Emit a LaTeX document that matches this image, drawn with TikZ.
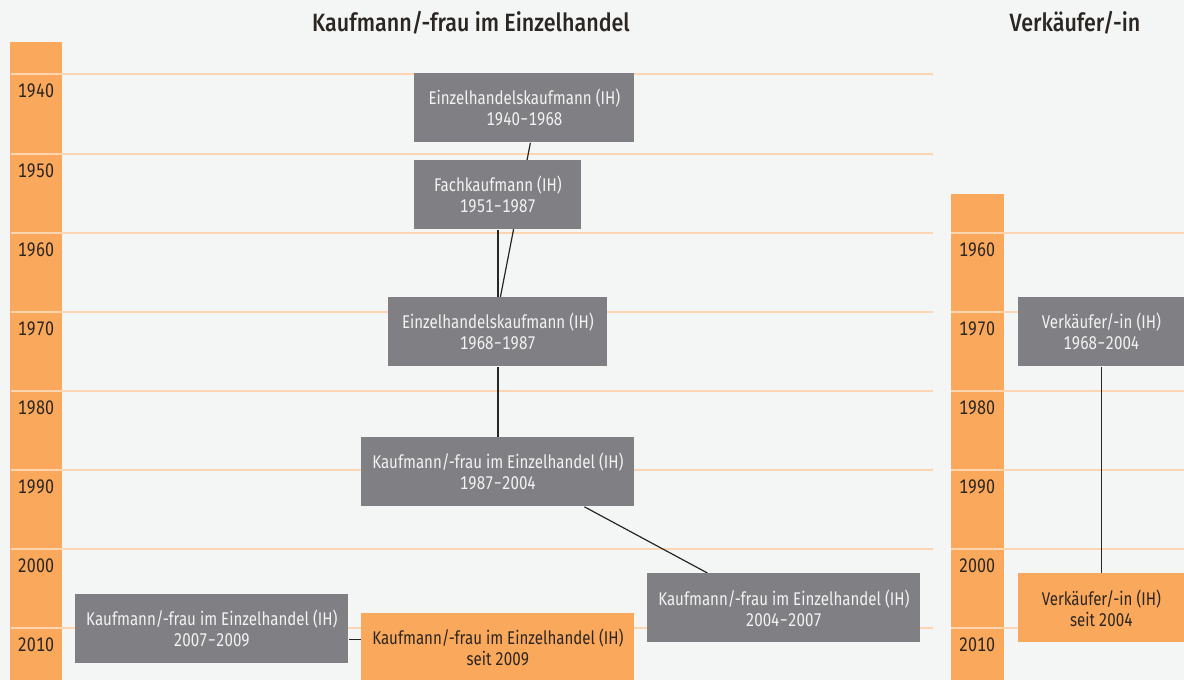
\documentclass[tikz,border=0pt]{standalone}
\usepackage{fontspec}
\setmainfont{Fira Sans}[FakeStretch=0.82, Numbers=Monospaced]
\newfontfamily\titlefont{Fira Sans Medium}[FakeStretch=0.86]
\usetikzlibrary{positioning,calc}
\definecolor{bgcol}{HTML}{F4F6F5}
\definecolor{barorange}{HTML}{FAA85B}
\definecolor{peach}{HTML}{FDD5B0}
\definecolor{boxgray}{HTML}{808084}
\definecolor{boxtext}{HTML}{F2F2F2}
\definecolor{darktext}{HTML}{2B2622}
\pgfdeclarelayer{background}
\pgfdeclarelayer{edges}
\pgfsetlayers{background,edges,main}
\tikzstyle{link} = [draw, black!85, line width=0.6pt]
\tikzstyle{block} = [fill=boxgray, text=boxtext, align=center, anchor=north west, inner sep=0pt, minimum height=34.5pt, font=\fontsize{9.2}{10.5}\selectfont]
\tikzstyle{newblock} = [block, fill=barorange, text=darktext]
\tikzstyle{year} = [anchor=base, text=darktext, font=\fontsize{9.8}{11}\selectfont]
\tikzstyle{yearline} = [draw=peach, line width=0.8pt]
\tikzstyle{title} = [anchor=base, text=darktext, font=\fontsize{12.5}{14}\titlefont]

\begin{document}
\begin{tikzpicture}[x=0.5pt, y=-0.5pt]
        \clip (0,0) rectangle (1184,680);
        \begin{pgfonlayer}{background}
        \fill[bgcol] (0,0) rectangle (1184,680);
        \fill[barorange] (10,42) rectangle (62,680);
        \fill[barorange] (951,194) rectangle (1004,680);
        \foreach \y/\yr in {74/1940,154/1950,233/1960,312/1970,391/1980,470/1990,549/2000,628/2010}{
            \path[yearline] (11,\y) -- (933,\y);
            \node[year] (k\yr) at (36,\y+23) {\yr};
        }
        \foreach \y/\yr in {233/1960,312/1970,391/1980,470/1990,549/2000,628/2010}{
            \path[yearline] (951,\y) -- (1184,\y);
            \node[year] (v\yr) at (977,\y+23) {\yr};
        }
        \end{pgfonlayer}
        % column titles
        \node[title] (kauf) at (471,32) {Kaufmann/-frau im Einzelhandel};
        \node[title] (verk) at (1075,32) {Verkäufer/-in};
        % Kaufmann/-frau im Einzelhandel
        \node[block, minimum width=110pt] (b1) at (414,73) {Einzelhandelskaufmann (IH)\\1940−1968};
        \node[block, minimum width=83.5pt] (b2) at (414,160) {Fachkaufmann (IH)\\1951−1987};
        \node[block, minimum width=109.5pt] (b3) at (388,297) {Einzelhandelskaufmann (IH)\\1968−1987};
        \node[block, minimum width=136.5pt] (b4) at (361,437) {Kaufmann/-frau im Einzelhandel (IH)\\1987−2004};
        \node[block, minimum width=136.5pt] (b5) at (647,573) {Kaufmann/-frau im Einzelhandel (IH)\\2004−2007};
        \node[block, minimum width=136.5pt] (b6) at (75,594) {Kaufmann/-frau im Einzelhandel (IH)\\2007−2009};
        \node[newblock, minimum width=136.5pt] (b7) at (361,613) {Kaufmann/-frau im Einzelhandel (IH)\\seit 2009};
        % Verkaeufer/-in
        \node[block, minimum width=83pt] (b8) at (1018,297) {Verkäufer/-in (IH)\\1968−2004};
        \node[newblock, minimum width=83pt] (b9) at (1018,573) {Verkäufer/-in (IH)\\seit 2004};
        \begin{pgfonlayer}{edges}
        \path[link] ([xshift=3pt]b1.south) -- ([xshift=1.25pt]b3.north);
        \path[link] (b2) -- (b3);
        \path[link] (b3) -- (b4);
        \path[link] ([xshift=43.25pt]b4.south) -- ([xshift=-38.25pt]b5.north);
        \coordinate (l67) at ([yshift=-5.25pt]b6.east);
        \path[link] (l67) -- (l67 -| b7.west);
        \path[link] (b8) -- (b9);
        \end{pgfonlayer}
    \end{tikzpicture}
\end{document}
